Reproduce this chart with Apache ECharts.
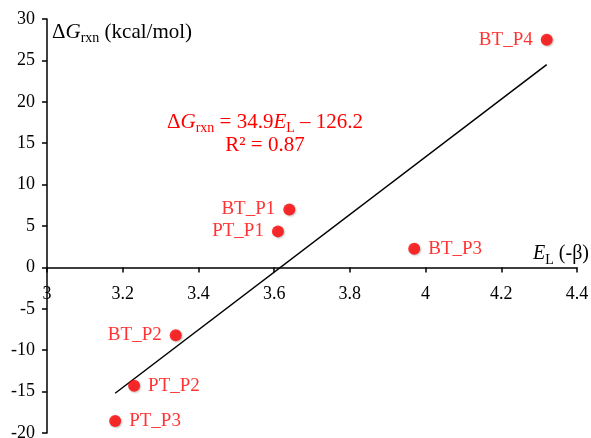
<!DOCTYPE html>
<html>
<head>
<meta charset="utf-8">
<script src="https://cdn.jsdelivr.net/npm/echarts@6/dist/echarts.min.js"></script>
<style>
  html, body { margin: 0; padding: 0; background: #fff; }
  #chart { width: 591px; height: 438px; }
</style>
</head>
<body>
<div id="chart"></div>
<script>
// points
var pointNames = ["BT_P4", "BT_P1", "PT_P1", "BT_P3", "BT_P2", "PT_P2", "PT_P3"];
var pointEL = [4.32, 3.64, 3.61, 3.97, 3.34, 3.23, 3.18];
var pointDG = [27.5, 7.0, 4.35, 2.25, -8.2, -14.3, -18.55];
var labelSide = ["left", "left", "left", "right", "left", "right", "right"];
// trendline ends as drawn
var fitEL = [3.18, 4.32];
var fitDG = [-15.2, 24.5];

var serif = "Liberation Serif";
var red = "#ff0000";

var gridTop = 19, gridBottom = 5, chartH = 438;
var yMin = -20, yMax = 30;

var mychart = echarts.init(document.getElementById("chart"));

var scatterData = pointEL.map(function (x, i) {
  return {
    value: [x, pointDG[i]],
    label: { position: labelSide[i] }
  };
});
var fitData = fitEL.map(function (x, i) {
  return [x, fitDG[i]];
});

// x axis sits on y = 0, move it up from the grid bottom
var plotH = chartH - gridTop - gridBottom;
var zeroOffset = -plotH * (0 - yMin) / (yMax - yMin);

var axisLabelStyle = {
  color: "#000",
  fontFamily: serif,
  fontSize: 18
};

var option = {
  animation: false,
  grid: {
    left: 47,
    right: 14,
    top: gridTop,
    bottom: gridBottom,
    containLabel: false,
    outerBoundsMode: "none"
  },
  xAxis: {
    type: "value",
    min: 3,
    max: 4.4,
    interval: 0.2,
    offset: zeroOffset,
    axisLine: { onZero: false, lineStyle: { color: "#000", width: 1.5 } },
    axisTick: { show: true, length: 5, lineStyle: { color: "#000", width: 1.5 } },
    axisLabel: Object.assign({ margin: 18 }, axisLabelStyle),
    splitLine: { show: false }
  },
  yAxis: {
    type: "value",
    min: yMin,
    max: yMax,
    interval: 5,
    axisLine: { show: true, onZero: false, lineStyle: { color: "#000", width: 1.5 } },
    axisTick: { show: true, length: 5, lineStyle: { color: "#000", width: 1.5 } },
    axisLabel: Object.assign({ margin: 12 }, axisLabelStyle),
    splitLine: { show: false }
  },
  series: [
    {
      type: "line",
      data: fitData,
      symbol: "none",
      silent: true,
      lineStyle: { color: "#000", width: 1.5 },
      z: 1
    },
    {
      type: "scatter",
      data: scatterData,
      symbolSize: 12,
      itemStyle: {
        color: red,
        shadowBlur: 2,
        shadowColor: "rgba(0,0,0,0.3)",
        shadowOffsetX: 1,
        shadowOffsetY: 1
      },
      label: {
        show: true,
        distance: 8,
        color: red,
        fontFamily: serif,
        fontSize: 19,
        formatter: function (p) {
          return pointNames[p.dataIndex];
        }
      },
      z: 3
    }
  ],
  graphic: [
    {
      type: "text",
      x: 52,
      y: 32,
      style: {
        text: "{n|Δ}{i|G}{s|rxn}{n| (kcal/mol)}",
        align: "left",
        verticalAlign: "middle",
        fill: "#000",
        rich: {
          n: { fontFamily: serif, fontSize: 21, lineHeight: 26, color: "#000" },
          i: { fontFamily: serif, fontSize: 21, fontStyle: "italic", lineHeight: 26, color: "#000" },
          s: { fontFamily: serif, fontSize: 14, lineHeight: 15, verticalAlign: "bottom", color: "#000" }
        }
      }
    },
    {
      type: "text",
      x: 589,
      y: 254,
      style: {
        text: "{i|E}{s|L}{n| (-β)}",
        align: "right",
        verticalAlign: "middle",
        fill: "#000",
        rich: {
          n: { fontFamily: serif, fontSize: 20, lineHeight: 26, color: "#000" },
          i: { fontFamily: serif, fontSize: 20, fontStyle: "italic", lineHeight: 26, color: "#000" },
          s: { fontFamily: serif, fontSize: 14, lineHeight: 15, verticalAlign: "bottom", color: "#000" }
        }
      }
    },
    {
      type: "text",
      x: 265,
      y: 122,
      style: {
        text: "{n|Δ}{i|G}{s|rxn}{n| = 34.9}{i|E}{s|L}{n| – 126.2}",
        align: "center",
        verticalAlign: "middle",
        fill: red,
        rich: {
          n: { fontFamily: serif, fontSize: 21, lineHeight: 26, color: red },
          i: { fontFamily: serif, fontSize: 21, fontStyle: "italic", lineHeight: 26, color: red },
          s: { fontFamily: serif, fontSize: 14, lineHeight: 15, verticalAlign: "bottom", color: red }
        }
      }
    },
    {
      type: "text",
      x: 265,
      y: 145,
      style: {
        text: "R² = 0.87",
        align: "center",
        verticalAlign: "middle",
        fill: red,
        fontFamily: serif,
        fontSize: 21
      }
    }
  ]
};

mychart.setOption(option);
</script>
</body>
</html>
